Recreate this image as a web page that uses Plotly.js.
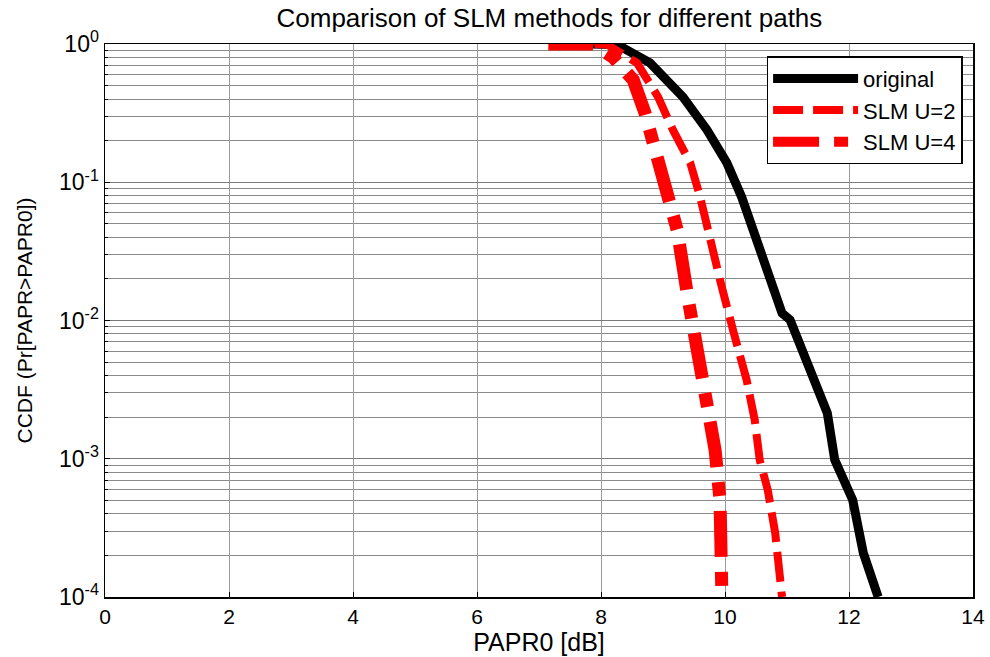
<!DOCTYPE html>
<html><head><meta charset="utf-8">
<script src="https://cdn.plot.ly/plotly-3.0.1.min.js"></script>
<style>body{margin:0;background:#fff}#c{width:990px;height:657px}</style>
</head><body><div id="c"></div>
<script>
const origX = [7.8, 8.26, 8.79, 9.32, 9.71, 10.03, 10.27, 10.44, 10.6, 10.92, 11.05, 11.65, 11.77, 12.06, 12.23, 12.47];
const origY = [1, 0.99, 0.73, 0.414, 0.239, 0.138, 0.078, 0.0475, 0.029, 0.0113, 0.0101, 0.00214, 0.00098, 0.000503, 0.000209, 0.0001];
const u2X = [7.9, 8.1, 8.58, 8.92, 9.16, 9.44, 9.6, 9.71, 9.92, 10.13, 10.35, 10.48, 10.56, 10.69, 10.81, 10.92];
const u2Y = [1, 0.99, 0.73, 0.414, 0.239, 0.138, 0.078, 0.0475, 0.0196, 0.0085, 0.0037, 0.0019, 0.00098, 0.000594, 0.00029, 0.0001];
const u4X = [7.15, 7.87, 8.19, 8.52, 8.71, 8.87, 9.03, 9.16, 9.23, 9.4, 9.55, 9.65, 9.76, 9.84, 9.92, 9.94, 9.95];
const u4Y = [1, 1, 0.805, 0.549, 0.317, 0.18, 0.104, 0.06, 0.045, 0.0148, 0.0064, 0.0037, 0.00214, 0.00116, 0.000503, 0.00029, 0.0001];
const yTickVals = [1, 0.1, 0.01, 0.001, 0.0001];
const yTickText = ['10<sup>0</sup>', '10<sup>-1</sup>', '10<sup>-2</sup>', '10<sup>-3</sup>', '10<sup>-4</sup>'];
const xTickVals = [0, 2, 4, 6, 8, 10, 12, 14];

const traces = [
  {x: origX, y: origY, name: 'original', mode: 'lines', line: {color: '#000', width: 9}},
  {x: u2X, y: u2Y, name: 'SLM U=2', mode: 'lines', line: {color: '#ff0000', width: 8, dash: '30px,10px'}},
  {x: u4X, y: u4Y, name: 'SLM U=4', mode: 'lines', line: {color: '#ff0000', width: 13, dash: '46px,15px,14px,15px'}}
];
const font = {family: 'Liberation Sans, Arial, sans-serif', color: '#000'};
const layout = {
  width: 990, height: 657,
  margin: {l: 105, r: 17, t: 44, b: 60},
  paper_bgcolor: '#fff', plot_bgcolor: '#fff',
  font: Object.assign({size: 18}, font),
  showlegend: true,
  title: {text: 'Comparison of SLM methods for different paths', font: Object.assign({size: 26}, font), xref: 'paper', x: 0.512, xanchor: 'center', y: 0.972, yanchor: 'middle'},
  xaxis: {
    range: [0, 14], tickvals: xTickVals, ticks: 'inside', ticklen: 5, tickcolor: '#000',
    showgrid: true, gridcolor: '#9a9a9a', gridwidth: 1, zeroline: false,
    showline: true, linecolor: '#000', linewidth: 1.5, mirror: true,
    tickfont: Object.assign({size: 21}, font),
    title: {text: 'PAPR0 [dB]', font: Object.assign({size: 25}, font), standoff: 3}
  },
  yaxis: {
    type: 'log', range: [-4, 0], tickvals: yTickVals, ticktext: yTickText,
    ticks: 'inside', ticklen: 5, tickcolor: '#000',
    showgrid: true, gridcolor: '#7a7a7a', gridwidth: 1, zeroline: false,
    showline: true, linecolor: '#000', linewidth: 1.5, mirror: true,
    minor: {dtick: 'D1', showgrid: true, gridcolor: '#8a8a8a', gridwidth: 1, ticks: 'inside', ticklen: 3},
    tickfont: Object.assign({size: 23}, font),
    title: {text: 'CCDF (Pr[PAPR>PAPR0])', font: Object.assign({size: 21}, font), standoff: 20}
  },
  legend: {
    x: 0.988, y: 0.978, xanchor: 'right', yanchor: 'top',
    bgcolor: '#fff', bordercolor: '#000', borderwidth: 1.5,
    font: Object.assign({size: 22}, font),
    tracegroupgap: 0, itemwidth: 85
  }
};
Plotly.newPlot('c', traces, layout, {staticPlot: true});
</script></body></html>
